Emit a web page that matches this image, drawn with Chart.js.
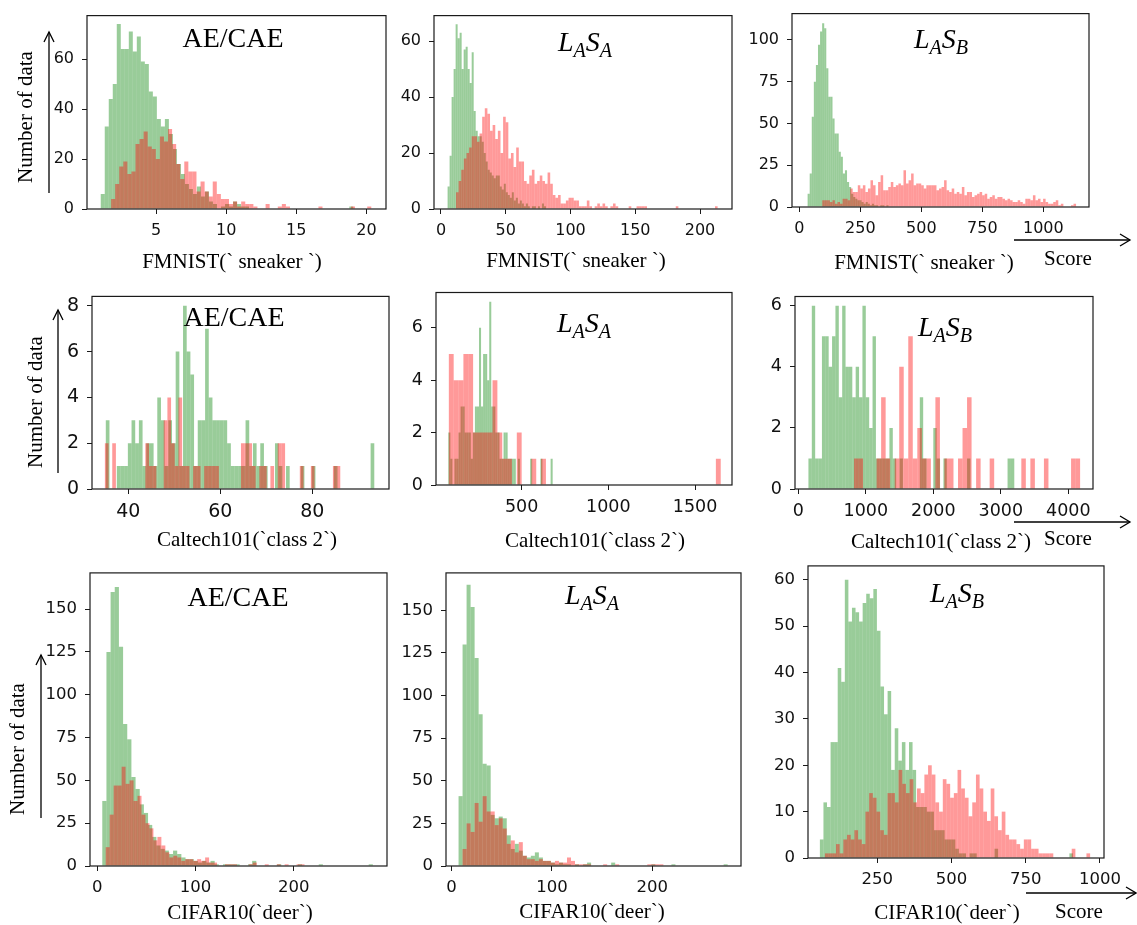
<!DOCTYPE html>
<html>
<head>
<meta charset="utf-8">
<script src="https://cdn.jsdelivr.net/npm/chart.js@4.4.0/dist/chart.umd.min.js"></script>
<style>
  body { margin: 0; background: #fff; }
  #fig { position: relative; width: 1137px; height: 925px; overflow: hidden; background: #fff; }
  #fig canvas { position: absolute; }
  .t { position: absolute; font-family: "Liberation Serif", "Times New Roman", serif; color: #000;
       line-height: 1; white-space: nowrap; transform: translate(-50%, -50%); z-index: 5; }
  .ttl { font-size: 28px; }
  .ttl .sub { font-size: 0.72em; position: relative; top: 0.28em; }
  .xl { font-size: 21px; }
  .yl { font-size: 21px; transform: translate(-50%, -50%) rotate(-90deg); }
  svg { position: absolute; left: 0; top: 0; z-index: 4; }
</style>
</head>
<body>
<div id="fig"></div>
<script>
// Histogram bin counts.
// *Bins = [left edge of first bin, bin width]

// FMNIST(`sneaker`) - AE/CAE
const fmnistAeGreen = [6,33,44,50,74,64,64,71,63,69,59,58,47,45,36,33,36,30,24,18,14,10,8,6,9,5,7,3,2,0,1,2,1,3,2,1,1,
  0,0,0,0,0,0,0,0,0,0,0,0,0,0,0,0,0,0,0,0,0,0,0,0,0,1];
const fmnistAeGreenBins = [1.05, 0.286];
const fmnistAeRed = [4,10,17,19,14,15,26,28,31,25,24,20,29,27,32,26,18,12,19,15,15,7,11,7,5,11,6,4,4,2,
  3,1,3,2,2,1,0,0,2,0,0,1,2,1,0,0,0,0,0,0,0,1,0,0,0,0,0,0,0,1,0,0,0,1];
const fmnistAeRedBins = [1.79, 0.29];
const fmnistAeXTicks = [5, 10, 15, 20];
const fmnistAeYTicks = [0, 20, 40, 60];

// FMNIST(`sneaker`) - LaSa
const fmnistLaSaGreen = [8,19,40,50,66,61,63,50,57,58,50,45,56,35,28,26,26,24,20,17,14,13,12,11,12,12,8,7,9,6,
  5,4,6,3,4,2,3,2,1,2,1,0,1,1,0,1,0,2,1,0];
const fmnistLaSaGreenBins = [5.1, 1.55];
const fmnistLaSaRed = [6,10,14,18,20,22,26,26,24,27,33,36,34,28,30,25,28,20,33,31,18,20,15,22,17,17,10,9,12,14,
  9,10,12,10,9,13,9,5,4,5,2,2,3,4,4,3,3,1,1,1,3,1,0,1,2,1,2,1,0,1,2,1,0,0,0,0,1,0,0,1,
  1,1,1,0,0,0,0,0,0,0,0,0,0,0,1,0,0,0,0,0,0,0,0,0,0,0,0,0,0,1];
const fmnistLaSaRedBins = [11.6, 2.02];
const fmnistLaSaXTicks = [0, 50, 100, 150, 200];
const fmnistLaSaYTicks = [0, 20, 40, 60];

// FMNIST(`sneaker`) - LaSb
const fmnistLaSbGreen = [8,20,54,75,85,97,105,110,107,83,66,66,53,44,44,33,30,20,22,15,12,8,6,5,4,4,3,2,3,2,
  1,2,1,1,0,1,1,0,1];
const fmnistLaSbGreenBins = [34, 8.5];
const fmnistLaSbRed = [4,4,4,3,4,2,3,2,5,5,4,11,9,9,13,11,13,9,11,16,13,7,15,19,10,10,12,15,12,13,
  14,13,22,14,16,20,13,14,14,13,11,13,13,13,13,10,11,12,16,10,9,11,8,9,8,12,7,9,9,6,
  7,8,9,7,8,5,6,7,5,6,6,5,4,5,4,3,3,4,3,2,5,5,4,7,4,5,3,5,3,2,2,3,4,1,2,0,0,0,1,2];
const fmnistLaSbRedBins = [94, 10.4];
const fmnistLaSbXTicks = [0, 250, 500, 750, 1000];
const fmnistLaSbYTicks = [0, 25, 50, 75, 100];

// Caltech101(`class 2`) - AE/CAE
const caltechAeGreen = [3,0,0,1,1,1,2,3,2,3,1,2,2,1,4,3,1,3,2,6,1,8,6,5,1,3,3,7,4,3,
  3,3,3,2,1,1,1,1,3,1,2,1,2,1,0,0,2,1,0,1,0,0,0,1,0,0,1,0,0,0,0,0,1,0,0,0,0,0,0,0,0,0,2];
const caltechAeGreenBins = [35.1, 0.8];
const caltechAeRed = [2,0,2,0,0,0,0,0,0,0,0,2,1,1,0,0,3,4,2,1,4,1,1,0,1,1,0,1,1,1,
  1,0,0,0,0,0,0,2,2,2,1,0,1,1,0,1,0,2,2,0,0,0,0,1,0,0,1,0,0,0,0,0,1,1];
const caltechAeRedBins = [34.9, 0.8];
const caltechAeXTicks = [40, 60, 80];
const caltechAeYTicks = [0, 2, 4, 6, 8];

// Caltech101(`class 2`) - LaSa
const caltechLaSaGreen = [2,1,0,1,1,2,3,3,2,2,2,1,2,3,3,6,3,5,5,4,7,3,3,2,2,1,1,2,2,1,
  1,1,1,0,1,0,0,0,0,0,1,0,0,0,0,1,0,0,0,0,1];
const caltechLaSaGreenBins = [77, 11.8];
const caltechLaSaRed = [5,4,4,5,5,2,2,2,2,4,2,1,1,0,2,0,0,1,0,1,
  0,0,0,0,0,0,0,0,0,0,0,0,0,0,0,0,0,0,0,0,0,0,0,0,0,0,0,0,0,0,0,0,0,0,0,1];
const caltechLaSaRedBins = [80, 28];
const caltechLaSaXTicks = [500, 1000, 1500];
const caltechLaSaYTicks = [0, 2, 4, 6];

// Caltech101(`class 2`) - LaSb
const caltechLaSbGreen = [1,6,1,1,5,5,4,5,6,3,6,4,4,3,4,3,6,3,2,5,1,1,1,1,2,1,0,1,0,0,
  0,0,0,3,1,0,0,2,1,0,1,0,0,0,0,0,0,1,0,0,0,0,0,0,0,0,0,0,0,1,1];
const caltechLaSbGreenBins = [150, 50];
const caltechLaSbRed = [1,1,0,0,0,1,3,1,0,1,4,1,5,1,2,1,1,0,3,0,1,1,0,1,2,3,0,1,0,0,
  1,0,0,0,0,0,0,1,0,1,0,0,1,0,0,0,0,0,1,1];
const caltechLaSbRedBins = [825, 67];
const caltechLaSbXTicks = [0, 1000, 2000, 3000, 4000];
const caltechLaSbYTicks = [0, 2, 4, 6];

// CIFAR10(`deer`) - AE/CAE
const cifarAeGreen = [38,125,160,163,128,83,74,52,45,36,31,24,17,12,10,9,7,9,7,5,4,4,3,2,3,2,3,1,0,1,
  1,1,1,0,0,1,3,0,0,0,0,0,1,0,0,0,0,1,0,0,0,0,1,0,0,0,0,0,0,0,0,0,0,0,1];
const cifarAeGreenBins = [5, 4.24];
const cifarAeRed = [11,30,47,47,58,48,50,38,41,30,25,22,15,17,12,8,5,6,5,3,4,4,3,4,3,5,2,2,0,0,
  1,1,1,0,0,0,1,2,0,0,1,0,0,1,0,1,0,0,1,1];
const cifarAeRedBins = [8.5, 4.05];
const cifarAeXTicks = [0, 100, 200];
const cifarAeYTicks = [0, 25, 50, 75, 100, 125, 150];

// CIFAR10(`deer`) - LaSa
const cifarLaSaGreen = [41,130,165,152,122,89,60,59,30,28,29,28,18,10,13,9,6,5,6,8,5,3,3,2,1,2,1,1,0,1,
  0,1,2,0,0,0,0,0,2,0,0,0,0,0,0,0,0,0,1,0,0,0,0,1,0,0,0,0,0,0,0,0,0,0,0,0,1];
const cifarLaSaGreenBins = [7, 4.0];
const cifarLaSaRed = [10,25,20,37,26,41,32,32,24,28,22,13,15,8,14,6,4,4,3,4,3,3,2,3,2,2,5,3,1,1,
  1,1,0,0,0,1,0,0,1,0,0,0,0,0,0,0,1,1,1,1];
const cifarLaSaRedBins = [11, 4.0];
const cifarLaSaXTicks = [0, 100, 200];
const cifarLaSaYTicks = [0, 25, 50, 75, 100, 125, 150];

// CIFAR10(`deer`) - LaSb
const cifarLaSbGreen = [4,12,11,25,25,41,38,60,51,54,53,51,55,57,56,58,49,37,31,36,19,28,21,25,19,25,19,11,11,11,
  10,10,6,6,6,4,4,4,2,1,1,0,1,1,0,0,0,0,0,2,0,0,0,0,0,0,0,0,0,0,0,0,0,0,0,0,0,0,0,0,1];
const cifarLaSbGreenBins = [57, 12];
const cifarLaSbRed = [1,1,1,3,1,4,5,4,6,4,3,10,14,13,10,6,5,14,14,12,19,16,14,17,12,15,14,18,20,18,
  12,10,17,16,13,14,19,15,13,9,12,18,15,10,8,15,9,6,10,5,4,4,3,2,4,4,2,2,1,1,1,1,0,0,0,0,0,2,0,0,0,1];
const cifarLaSbRedBins = [74, 12.4];
const cifarLaSbXTicks = [250, 500, 750, 1000];
const cifarLaSbYTicks = [0, 10, 20, 30, 40, 50, 60];

const GREEN = 'rgba(0, 128, 0, 0.4)';
const RED = 'rgba(255, 0, 0, 0.4)';

// box = plot frame [left, top, right, bottom] on the page
const panels = [
  { box: [87, 13, 386, 209], xr: [0.07, 21.4], ymax: 77.4, font: 16,
    green: fmnistAeGreen, gBins: fmnistAeGreenBins, red: fmnistAeRed, rBins: fmnistAeRedBins, xt: fmnistAeXTicks, yt: fmnistAeYTicks },
  { box: [434, 13, 732, 209], xr: [-5.4, 224.7], ymax: 69.1, font: 16,
    green: fmnistLaSaGreen, gBins: fmnistLaSaGreenBins, red: fmnistLaSaRed, rBins: fmnistLaSaRedBins, xt: fmnistLaSaXTicks, yt: fmnistLaSaYTicks },
  { box: [792, 11, 1089, 207], xr: [-30, 1187], ymax: 115.7, font: 16,
    green: fmnistLaSbGreen, gBins: fmnistLaSbGreenBins, red: fmnistLaSbRed, rBins: fmnistLaSbRedBins, xt: fmnistLaSbXTicks, yt: fmnistLaSbYTicks },
  { box: [92, 292, 389, 489], xr: [32.1, 96.7], ymax: 8.41, font: 19,
    green: caltechAeGreen, gBins: caltechAeGreenBins, red: caltechAeRed, rBins: caltechAeRedBins, xt: caltechAeXTicks, yt: caltechAeYTicks },
  { box: [436, 289, 732, 485], xr: [6, 1713], ymax: 7.35, font: 17.5,
    green: caltechLaSaGreen, gBins: caltechLaSaGreenBins, red: caltechLaSaRed, rBins: caltechLaSaRedBins, xt: caltechLaSaXTicks, yt: caltechLaSaYTicks },
  { box: [795, 293, 1093, 489], xr: [-49, 4366], ymax: 6.3, font: 17.5,
    green: caltechLaSbGreen, gBins: caltechLaSbGreenBins, red: caltechLaSbRed, rBins: caltechLaSbRedBins, xt: caltechLaSbXTicks, yt: caltechLaSbYTicks },
  { box: [90, 570, 387, 866], xr: [-7.5, 295], ymax: 171.2, font: 16.5,
    green: cifarAeGreen, gBins: cifarAeGreenBins, red: cifarAeRed, rBins: cifarAeRedBins, xt: cifarAeXTicks, yt: cifarAeYTicks },
  { box: [446, 570, 741, 866], xr: [-5.5, 288.3], ymax: 172, font: 16.5,
    green: cifarLaSaGreen, gBins: cifarLaSaGreenBins, red: cifarLaSaRed, rBins: cifarLaSaRedBins, xt: cifarLaSaXTicks, yt: cifarLaSaYTicks },
  { box: [808, 563, 1104, 858], xr: [17, 1013.5], ymax: 63, font: 16.5,
    green: cifarLaSbGreen, gBins: cifarLaSbGreenBins, red: cifarLaSbRed, rBins: cifarLaSbRedBins, xt: cifarLaSbXTicks, yt: cifarLaSbYTicks }
];

const fig = document.getElementById('fig');

function histPoints(counts, bins) {
  return counts.map((c, i) => ({ x: bins[0] + (i + 0.5) * bins[1], y: c }));
}

// black frame round the plot area, like matplotlib spines
const framePlugin = {
  id: 'frame',
  afterDraw(chart) {
    const { ctx, chartArea: a } = chart;
    ctx.save();
    ctx.strokeStyle = '#1a1a1a';
    ctx.lineWidth = 1.2;
    ctx.strokeRect(a.left, a.top, a.right - a.left, a.bottom - a.top);
    ctx.restore();
  }
};

const PAD_L = 60, PAD_T = 15, PAD_R = 30, AXIS_H = 40;

panels.forEach(p => {
  const [L, T, R, B] = p.box;
  const canvas = document.createElement('canvas');
  canvas.width = (R - L) + PAD_L + PAD_R;
  canvas.height = (B - T) + PAD_T + AXIS_H;
  canvas.style.left = (L - PAD_L) + 'px';
  canvas.style.top = (T - PAD_T) + 'px';
  fig.appendChild(canvas);

  const tickFont = { family: 'DejaVu Sans', size: p.font };
  const useTicks = list => scale => { scale.ticks = list.map(v => ({ value: v })); };
  const xBase = {
    type: 'linear', min: p.xr[0], max: p.xr[1], bounds: 'data', offset: false,
    grid: { display: true, offset: false, drawOnChartArea: false, drawTicks: true, tickLength: 5, tickColor: '#1a1a1a', tickWidth: 1 },
    border: { display: false },
    ticks: { font: tickFont, color: '#111', padding: 7, maxRotation: 0, autoSkip: false, callback: v => v },
    afterBuildTicks: useTicks(p.xt)
  };

  new Chart(canvas, {
    type: 'bar',
    data: {
      datasets: [
        { data: histPoints(p.green, p.gBins), backgroundColor: GREEN, xAxisID: 'x', order: 2 },
        { data: histPoints(p.red, p.rBins), backgroundColor: RED, xAxisID: 'x2', order: 1 }
      ]
    },
    options: {
      responsive: false,
      animation: false,
      events: [],
      layout: { padding: { top: PAD_T, right: PAD_R, left: 0, bottom: 0 } },
      datasets: { bar: { grouped: false, barPercentage: 1, categoryPercentage: 1, borderWidth: 0, inflateAmount: 0 } },
      plugins: { legend: { display: false }, tooltip: { enabled: false } },
      scales: {
        x: Object.assign({}, xBase, { afterFit: s => { s.height = AXIS_H; } }),
        x2: Object.assign({}, xBase, { display: false }),
        y: {
          type: 'linear', min: 0, max: p.ymax, bounds: 'data',
          grid: { display: true, drawOnChartArea: false, drawTicks: true, tickLength: 5, tickColor: '#1a1a1a', tickWidth: 1 },
          border: { display: false },
          ticks: { font: tickFont, color: '#111', padding: 8, autoSkip: false, callback: v => v },
          afterBuildTicks: useTicks(p.yt),
          afterFit: s => { s.width = PAD_L; }
        }
      }
    },
    plugins: [framePlugin]
  });
});

// text round the panels
const AE = 'AE/CAE';
const LASA = '<i>L</i><i class="sub">A</i><i>S</i><i class="sub">A</i>';
const LASB = '<i>L</i><i class="sub">A</i><i>S</i><i class="sub">B</i>';
const texts = [
  ['ttl', 233, 38, AE], ['ttl', 585, 42, LASA], ['ttl', 941, 39, LASB],
  ['ttl', 234, 317, AE], ['ttl', 584, 323, LASA], ['ttl', 945, 327, LASB],
  ['ttl', 238, 597, AE], ['ttl', 592, 595, LASA], ['ttl', 957, 593, LASB],
  ['xl', 232, 261, 'FMNIST(` sneaker `)'], ['xl', 576, 260, 'FMNIST(` sneaker `)'], ['xl', 924, 262, 'FMNIST(` sneaker `)'],
  ['xl', 247, 539, 'Caltech101(`class 2`)'], ['xl', 595, 540, 'Caltech101(`class 2`)'], ['xl', 941, 541, 'Caltech101(`class 2`)'],
  ['xl', 240, 912, 'CIFAR10(`deer`)'], ['xl', 592, 911, 'CIFAR10(`deer`)'], ['xl', 947, 912, 'CIFAR10(`deer`)'],
  ['xl', 1068, 258, 'Score'], ['xl', 1068, 538, 'Score'], ['xl', 1079, 911, 'Score'],
  ['yl', 25, 117, 'Number of data'], ['yl', 35, 402, 'Number of data'], ['yl', 17, 749, 'Number of data']
];
texts.forEach(([cls, x, y, html]) => {
  const d = document.createElement('div');
  d.className = 't ' + cls;
  d.style.left = x + 'px';
  d.style.top = y + 'px';
  d.innerHTML = html;
  fig.appendChild(d);
});

// arrows: [x1, y1, x2, y2] with the head at (x2, y2)
const arrows = [
  [49, 193, 49, 32], [58, 473, 58, 310], [41, 818, 41, 655],
  [1014, 240, 1130, 240], [1014, 522, 1130, 522], [1026, 893, 1136, 893]
];
let svg = '<svg width="1137" height="925" xmlns="http://www.w3.org/2000/svg" fill="none" stroke="#000" stroke-width="1.3">';
arrows.forEach(([x1, y1, x2, y2]) => {
  svg += `<line x1="${x1}" y1="${y1}" x2="${x2}" y2="${y2}"/>`;
  if (x1 === x2) {
    svg += `<polyline points="${x2 - 5},${y2 + 10} ${x2},${y2} ${x2 + 5},${y2 + 10}"/>`;
  } else {
    svg += `<polyline points="${x2 - 10},${y2 - 6} ${x2},${y2} ${x2 - 10},${y2 + 6}"/>`;
  }
});
svg += '</svg>';
fig.insertAdjacentHTML('beforeend', svg);
</script>
</body>
</html>
